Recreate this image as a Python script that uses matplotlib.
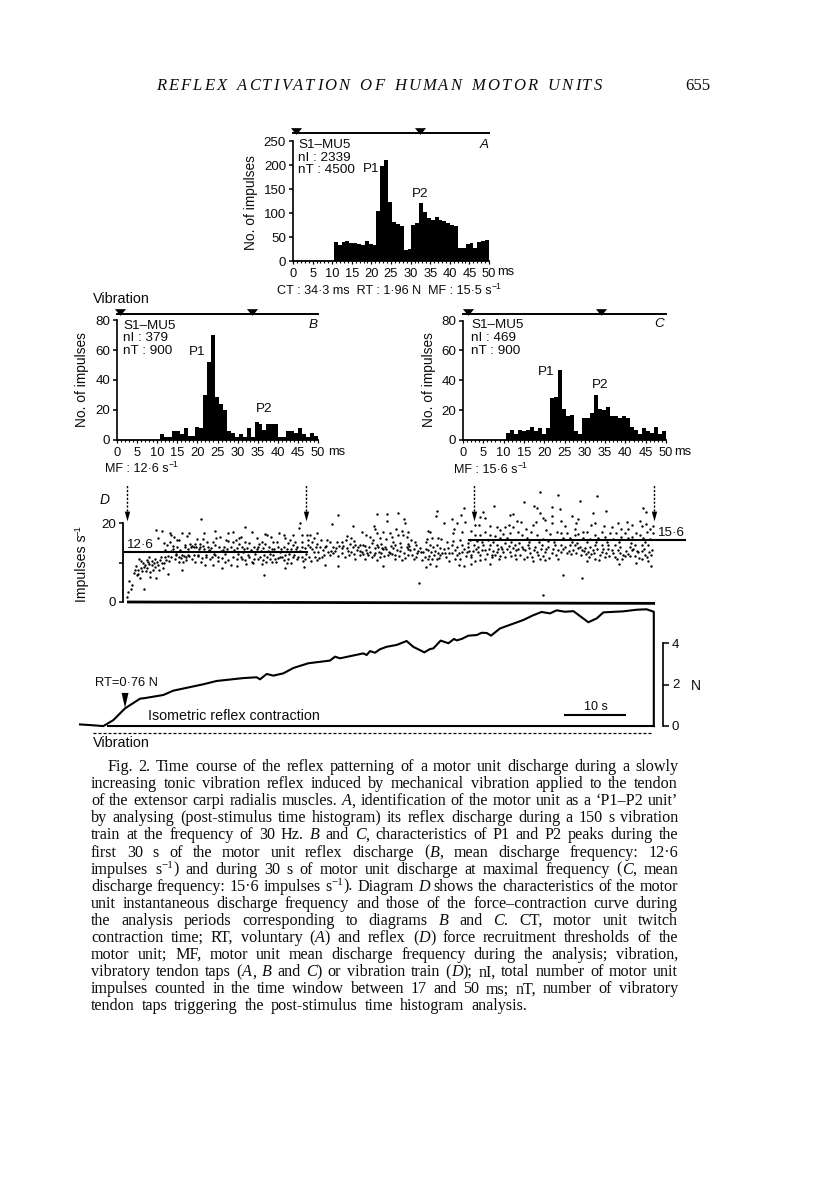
import re
import matplotlib
matplotlib.use("Agg")
import matplotlib.pyplot as plt

# ---------- data ----------
hist_a = [40,34,39,42,37,38,36,33,41,35,33,105,198,210,122,81,77,72,22,24,75,80,121,103,90,85,92,85,83,80,76,72,28,28,35,37,28,40,41,43]
hist_b = [4,2,2,6,6,4,8,3,3,9,8,30,52,70,29,24,20,6,5,2,4,2,8,2,12,11,7,11,11,11,2,2,6,6,5,8,4,2,5,3]
hist_c = [5,7,4,7,6,7,9,6,8,4,8,28,29,47,21,16,17,6,4,15,15,18,30,21,20,22,16,16,15,16,15,9,7,4,8,6,5,9,4,6]
bins_start_a, bins_width_a = 10.4, 0.99
bins_start_bc, bins_width_bc = 10.7, 0.98
ms_ticks = list(range(0, 55, 5))

force_t = [-7.83,-6.17,-3.94,-2.28,-.33,2.17,3,6.06,7.72,12.72,14.94,19.39,21.61,22.17,23.28,24.39,26.06,27.72,30.22,33.83,34.67,35.5,39.39,39.94,40.5,41.33,42.17,43.28,44.95,46.6,47.7,49.56,50.5,51.05,52.28,53.56,54.5,54.95,55.78,56.9,58.3,59.1,59.95,60.67,62.17,66.06,67.7,69.1,70.5,71.6,73,74.4,76.9,77.7,78.3,79.4,82.7,85,86.6,87.8,87.8]
force_n = [.1,.07,.02,.31,.88,1.35,1.38,1.53,1.74,2.05,2.21,2.35,2.39,2.29,2.55,2.47,2.58,2.84,3.07,3.2,3.39,3.31,3.55,3.47,3.66,3.58,3.75,3.87,3.96,4.15,3.87,3.6,3.76,3.79,4.17,4.04,4.25,4.18,4.25,4.41,4.44,4.55,4.54,4.41,4.76,5.17,5.4,5.56,5.49,5.64,5.57,5.6,5.06,5.17,5.25,5.54,5.59,5.67,5.69,5.57,0.02]

spikes_1 = [(.05,1.3),(.2,2.6),(.4,5.4),(.7,3.4),(.9,4.3),(1.3,8.1),(1.6,6.8),(1.9,8.1),(2.05,11),(2.3,10.5),(2.4,8.5),(2.2,6),(2.8,3.4),(3,9.4),(3.3,10.6),(3.4,8.5),(3.7,11.5),(3.8,6.4),(4.1,9.4),(4.4,8.1),(4.7,11),(4.8,6.2),(4.8,18.2),(5.2,16.1),(5.2,9.4),(5.5,10.6),(5.9,18),(6,8.5),(6.3,11.5),(6.6,14.4),(6.9,7.2),(7.1,17.4),(7.2,15.3),(7.4,17),(7.4,11.5),(8,11),(8.3,15.7),(8.7,15.7),(8.7,11.5),(9.1,17.4),(9.1,8.1),(9.4,10.2),(9.7,14.4),(9.9,11.5),(10.3,17.5),(10.5,14.8),(10.8,11),(11.2,14),(11.3,10.2),(11.7,15.9),(12.2,14),(12.3,20.9),(12.4,10.2),(12.9,17.4),(13,9.4),(13.4,15.3),(13.6,13.2),(13.8,11),(14.3,9.4),(14.7,18),(14.7,14.4),(15.1,11.5),(15.5,16.5),(15.8,8.5),(16.1,14),(16.5,15.7),(16.9,17.4),(16.9,10.6),(1.5,9.2),(2.7,9.8),(3.5,10.2),(4.5,9.9),(5.8,10),(6.4,13.1),(6.8,11.6),(7.7,13.5),(8.2,11.8),(9,11.2),(9.5,11.6),(10.1,13.3),(10.7,13.8),(11.5,13.9),(11.9,11.6),(12.7,14.2),(13.2,11.3),(14,13.6),(14.5,12.2),(15.3,13.8),(15.9,11.2),(16.3,12.1),(16.7,13.3),(12,13.4),(8.9,13.2)]
spikes_1b = [(1.1,7.4),(1.8,7.2),(2.5,7.8),(2.9,8.8),(3.1,7.9),(3.6,9.5),(3.9,7.6),(4.2,10.4),(4.6,8.8),(5,10.2),(5.4,8.2),(5.6,11.3),(6.1,9.8),(6.5,10.6),(7,10.4),(7.3,13),(7.6,14.3),(7.9,16.4),(8.4,13.8),(8.6,10.2),(9.2,12),(9.6,14),(9.8,10.6),(10.2,12),(10.4,11.7),(10.9,14.3),(11.1,11.9),(11.4,14.6),(11.8,12),(12.1,14.8),(12.5,11.1),(12.8,13.4),(13.1,12),(13.5,14),(13.9,12.9),(14.2,11.3),(14.6,12),(14.9,16.1),(15.2,10.5),(15.6,12.8),(16,13.1),(16.4,10.2),(16.8,15.4),(6.2,14.9),(8.1,12.2),(10,16.6),(12.6,16),(14.4,15.1)]
spikes_2 = [(17.7,17.8),(19.7,18.9),(20.8,17.6),(23,17.2),(23.4,17),(24,16.4),(25.4,17.5),(26.1,17),(27.6,17),(28.6,18.8),(28.8,19.9),(29.2,17),(30,17),(30.5,17),(31.7,17.5),(31.1,16.3),(34.1,19.7),(35.2,22),(19,16.5),(18.7,16.1),(21.6,16.1),(17.7,15.1),(18.6,14.8),(19.7,15.3),(22.5,15.3),(23,14.8),(25,15.3),(26.3,16.1),(27.2,15.7),(26.9,15),(29.1,15.3),(30.8,15.3),(32.3,15.7),(33.3,15.7),(33.8,15.3),(35,15.3),(17.4,14),(18.3,13.6),(19.1,14),(20,13.6),(21.1,14),(21.9,13.8),(22.7,13.6),(23.6,14),(24.1,13.3),(25.2,14),(26.1,14),(26.6,13.3),(27.7,14.4),(28.3,14),(29.1,14),(29.7,13.6),(30.5,13.8),(31.5,14),(33,13.8),(34.4,14),(17.6,11.5),(18.3,11),(19,11.5),(19.7,10.6),(20.4,11.5),(21.2,11),(21.9,11),(22.6,10.6),(23.3,11.5),(24.1,10.2),(24.7,11),(25.5,11.5),(26.1,10.6),(26.6,9.8),(27.4,10),(28.3,10.8),(29.1,11.5),(29.7,11),(30.7,10.5),(31.7,10.6),(32.5,11.5),(33.8,11.9),(34.4,12.3),(35.1,11.7),(17.4,9.4),(18.4,9.1),(19.8,9.6),(21,10),(22.5,9.6),(26.3,8.7),(29.5,8.9),(33,9.4),(35.2,9.2),(22.8,6.8),(19.4,12.7),(23.8,12.2),(25.5,12.7),(31.1,12.7),(31.9,12.7),(32.7,13.2)]
spikes_2b = [(17.9,13.2),(18.5,12.1),(19.2,11),(19.5,13.4),(20.2,12),(20.6,13.1),(20.9,10.2),(21.4,12.2),(21.7,13.3),(22.2,11.4),(22.4,13),(22.9,12),(23.1,10.1),(23.5,13),(23.9,10.9),(24.3,12),(24.5,13.5),(24.9,10.2),(25.2,11.2),(25.7,13.5),(25.9,11.3),(26.4,12),(26.8,11),(27,12.1),(27.3,13.4),(27.6,11.4),(27.9,12),(28.1,13.3),(28.5,11.4),(28.9,12.9),(29.3,10.4),(29.9,12.2),(30.2,14.4),(30.4,11.5),(30.9,13.3),(31.3,11.4),(31.6,14.7),(32,11.2),(32.2,13.9),(32.9,12),(33.2,14.2),(33.5,12.6),(34,13),(34.7,12.8),(34.9,13.6),(35.3,14.1),(18.1,15.6),(20.3,15),(22,14.7),(24.4,15.1),(28,15.2),(30.1,15.8)]
spikes_3 = [(41.7,22.4),(43.3,22.4),(45.2,22.6),(43.4,20.5),(46.2,20.9),(46.4,19.9),(51.7,23),(51.5,21.8),(52.8,20),(37.6,19.2),(41.1,19.2),(41.3,18.4),(44.9,18.4),(45.8,18),(46.9,17.8),(50.2,18),(50.5,17.6),(36.6,16.8),(39.1,17.6),(39.9,17),(41.6,17.5),(42.7,17.8),(43.8,17.4),(45.2,17),(46,17),(46.6,16.5),(37.4,16.3),(40.5,16.5),(42.2,16.1),(47.4,15.7),(49.8,15.3),(50.8,16.1),(51.9,16.1),(52.4,15.9),(35.8,15.3),(36.5,15.7),(37.2,14.8),(38,14.4),(38.8,14.4),(39.4,14.4),(40.8,15),(41.6,14.4),(42.4,14.8),(43,14),(44.4,15.3),(44.7,14.4),(45.5,15),(46.9,14.8),(48.2,14.4),(50.5,14.4),(51.6,14.4),(53.3,15.3),(35.9,13.6),(36.7,13.6),(37.4,12.7),(38.3,13.2),(39.1,12.7),(39.8,13.2),(40.5,12.7),(41.3,13.6),(42,12.7),(42.7,13.3),(43.6,12.7),(44.4,13.6),(45.5,13),(46.6,14),(47.2,13.2),(48.8,13.6),(49.4,12.7),(50.2,13.2),(51,13.8),(52.2,13.6),(35.8,12.3),(36.3,11.5),(37,11.9),(38,11),(38.8,11.9),(39.7,10.8),(40.2,11.9),(41.1,11.9),(41.6,10.6),(42.4,12.3),(43.8,12.3),(44.7,10.8),(45.8,10.6),(46.9,11.9),(47.8,11),(48.4,12.3),(49.1,10.6),(50.1,11),(50.8,11),(51.6,11),(52.2,11.9),(53,12.3),(53.7,12.3),(42.6,9.1),(49.8,8.8),(51.5,9),(53.6,10.4),(48.6,4.7),(50.5,9.6)]
spikes_3b = [(36,14.2),(36.9,12.9),(37.6,13.8),(37.9,12.2),(38.5,13.9),(38.9,13),(39.3,12.1),(39.6,14.1),(40,12.4),(40.3,13.8),(40.9,11.3),(41.4,12.5),(41.9,14),(42.1,11.5),(42.5,13.6),(42.9,11.7),(43.2,13.5),(43.5,11.8),(44,14.2),(44.2,12.2),(44.6,11.8),(45,13.2),(45.3,11.6),(45.7,14),(46.1,12.4),(46.4,11.2),(46.8,13.4),(47,14.3),(47.5,12),(47.9,13.5),(48.1,11.4),(48.5,13),(49,12.6),(49.6,11.3),(49.9,13.3),(50.4,11.7),(50.7,12.6),(51.2,11.9),(51.4,13),(51.8,12.3),(52,11.2),(52.5,12.5),(52.8,13.4),(53.1,11.4),(53.5,13.7),(37.8,15.4),(41,15.7),(43.1,16),(44.1,16.4),(48,15.3),(50,15.9)]
spikes_4 = [(68.8,27.8),(66.2,25.2),(56.1,23.7),(61.2,24.3),(67.8,24.3),(68.4,23.7),(68.8,22.6),(70.8,24.1),(71.9,27.1),(59.4,22.9),(58.9,21.6),(55.6,22),(63.8,22),(64.3,22.2),(59.7,21.3),(69.3,21.2),(69.7,20.8),(70.8,21.8),(54.1,20.9),(55,19.9),(56.3,20.2),(65,20.5),(65.6,20.2),(68.2,20.3),(70.8,19.9),(58,19.5),(58.7,19.6),(60.5,19.3),(63.7,19.5),(54.5,18.6),(61.6,19.1),(63,18.9),(64.4,19.1),(66.5,18.6),(67.7,19.5),(69.9,18.2),(57.3,18),(55.9,17.8),(59.7,17.8),(62.2,18.2),(65.2,17.8),(67.4,17.8),(71.6,17.8),(54.4,17.4),(58,17),(58.8,17),(60.5,17),(61.3,16.7),(62.6,17.2),(63.8,17.4),(65.8,17),(68.4,17),(70.5,17.2),(57.2,15.7),(55.5,15.7),(54.3,15.5),(62.2,16.1),(63.3,16.1),(66.6,16.1),(69.4,15.9),(54.1,14.4),(55,13.8),(55.9,14.4),(56.9,14),(57.8,14.4),(58.5,14),(59.4,14.4),(60.5,14.4),(61.6,14.4),(62.4,14),(63.6,14.2),(64.7,14.4),(65.8,14),(66.9,14.4),(68,14),(69.1,14.4),(70.2,14),(71.3,14.4),(54.1,12.3),(55,11.9),(55.8,12.7),(56.6,12.7),(57.4,11.9),(58.5,12.7),(59.7,13.2),(60.8,11.9),(61.6,12.7),(62.7,12.7),(63.8,12.7),(64.9,13.2),(66.3,13.2),(67.2,12.3),(68.3,12.7),(69.7,12.7),(70.8,12.3),(54.7,11),(55.5,10.8),(57.4,11.5),(58,10.4),(58.8,10.6),(59.7,10.9),(60.8,11.5),(66.2,10.8),(67.7,10.4),(68.8,11),(71.9,10.8),(55.4,9.4),(56.1,9.1),(57.3,9.6),(60.5,9.6),(69.3,1.8)]
spikes_4b = [(54.6,13.2),(55.3,12.4),(56.2,13.4),(56.5,11.6),(57,13),(57.6,12.9),(58.2,13.5),(58.9,11.8),(59.2,13.1),(60,12.1),(60.3,13.4),(61,13),(61.3,11.9),(61.9,13.4),(62.2,11.7),(62.5,13.3),(63,11.4),(63.4,13.4),(64,11.7),(64.3,13.6),(64.6,11.8),(65.1,13.4),(65.5,12),(66,13.5),(66.6,11.4),(67,13.6),(67.5,11.5),(67.9,13.2),(68.5,11.9),(69,13.5),(69.4,11.6),(69.9,13.3),(70.4,11.2),(71,13.4),(71.5,11.8),(71.8,13.2),(56.8,15),(58.3,15.4),(59.1,15.2),(60.1,15.6),(61,15.1),(64,15.3),(65.3,15),(67,15.2),(68.6,15.1),(70.1,15.4),(71.2,15.2),(63,15),(62,10.8),(64.8,11),(69.6,10.6)]
spikes_5 = [(78.4,26.8),(75.5,25.6),(77.7,22.6),(79.8,23.1),(86,23.9),(86.5,22.9),(72.2,23.5),(74.1,21.8),(75.2,21),(72.4,20.6),(78,19.9),(83.3,20.3),(85.5,20.6),(74.8,19.9),(73,19.3),(77.3,19.5),(79.5,19.3),(81.8,19.9),(84.1,19.5),(86.5,19.7),(87.7,19.2),(74.7,18.4),(76,17.8),(80.8,18.9),(82.4,18.4),(83.5,18.6),(85.8,19.2),(87.2,18.6),(72.4,17.4),(73.3,17.4),(75.2,17.1),(76.6,17.8),(79.1,17.8),(80.5,17.5),(81.5,17.5),(83,17.5),(84.8,17.5),(86.6,17.8),(87.6,17.4),(74.7,17),(78,17),(79.7,16.5),(82.4,16.5),(84.1,16.5),(85.5,17),(72.7,16.1),(73.8,16.1),(76,16.1),(77.2,15.9),(78.5,16.1),(81,15.9),(83.5,16.1),(86,16.1),(87.2,15.9),(72.4,14.4),(73,14),(73.8,14.4),(74.7,14.4),(75.5,14),(76.3,13.6),(77.2,14),(78,14.4),(79.1,14.4),(80.2,14.4),(81.3,14.4),(82.2,14),(83.8,13.8),(84.7,14.4),(85.8,14.4),(86.9,14.4),(72.4,12.7),(73.3,12.3),(74.4,13.2),(75.8,13.2),(76.9,12.7),(77.7,13.2),(79.1,12.7),(79.9,12.3),(80.8,13.2),(82.7,11.9),(84.1,13.2),(85.2,12.7),(86.3,11.9),(87.4,11.9),(76.6,10.5),(78,11),(78.7,10.6),(81.6,10.9),(82,9.6),(83,11.6),(84.9,10),(85.8,11),(86.9,10.5),(87.3,9.1),(72.7,6.8),(75.9,6.2)]
spikes_5b = [(72.7,13.4),(73.6,13),(74,12.1),(74.9,12.4),(75.2,13.6),(75.6,12),(76.1,12.8),(76.5,12.1),(77,11.4),(77.4,12.2),(77.9,12.4),(78.3,13.3),(78.8,12),(79.3,13.4),(79.6,11.3),(80.1,13.4),(80.4,11.6),(81,12.4),(81.3,11.4),(81.8,13.2),(82.1,12.3),(82.5,11),(83.1,13),(83.5,12.2),(83.9,11.6),(84.3,13.4),(84.6,11.6),(85,13),(85.4,11.2),(85.9,12.8),(86.2,13.3),(86.7,11.4),(87,12.7),(87.5,13.2),(74.2,15.2),(75,15),(76.6,15.1),(78.2,15.2),(80,15.3),(82,15.1),(84,15),(86.4,15.2)]

caption = [
 ("Fig. 2. Time course of the reflex patterning of a motor unit discharge during a slowly", 107),
 ("increasing tonic vibration reflex induced by mechanical vibration applied to the tendon", 91),
 ("of the extensor carpi radialis muscles. *A*, identification of the motor unit as a \u2018P1\u2013P2 unit\u2019", 91),
 ("by analysing (post-stimulus time histogram) its reflex discharge during a 150 s vibration", 91),
 ("train at the frequency of 30 Hz. *B* and *C*, characteristics of P1 and P2 peaks during the", 91),
 ("first 30 s of the motor unit reflex discharge (*B*, mean discharge frequency: 12\u00b76", 91),
 ("impulses s^{\u22121}) and during 30 s of motor unit discharge at maximal frequency (*C*, mean", 91),
 ("discharge frequency: 15\u00b76 impulses s^{\u22121}). Diagram *D* shows the characteristics of the motor", 91),
 ("unit instantaneous discharge frequency and those of the force\u2013contraction curve during", 91),
 ("the analysis periods corresponding to diagrams *B* and *C*. CT, motor unit twitch", 91),
 ("contraction time; RT, voluntary (*A*) and reflex (*D*) force recruitment thresholds of the", 91),
 ("motor unit; MF, motor unit mean discharge frequency during the analysis; vibration,", 91),
 ("vibratory tendon taps (*A*, *B* and *C*) or vibration train (*D*); nI, total number of motor unit", 91),
 ("impulses counted in the time window between 17 and 50 ms; nT, number of vibratory", 91),
 ("tendon taps triggering the post-stimulus time histogram analysis.", 91),
]

# ---------- layout helpers ----------
W, H = 816, 1183
INK = "#0c0c0c"
SANS = "Liberation Sans"
SERIF = "Liberation Serif"
CAP = 11.6
HS = 12
fig = plt.figure(figsize=(W/100, H/100), dpi=100, facecolor="white")
page = fig.add_axes([0, 0, 1, 1], zorder=5)
page.set_xlim(0, W); page.set_ylim(H, 0); page.axis("off"); page.patch.set_alpha(0)
renderer = fig.canvas.get_renderer()
TRI = [(-1, .6), (1, .6), (0, -.6)]
HEAD = [(-.55, 1), (.55, 1), (0, -1)]

def axes_px(x0, x1, ytop, ybot):
    a = fig.add_axes([x0/W, 1-ybot/H, (x1-x0)/W, (ybot-ytop)/H])
    a.patch.set_alpha(0)
    for s in a.spines.values():
        s.set_visible(False)
    return a

def segments(s):
    out, ital = [], False
    for part in re.split(r"(\*|\^\{.*?\})", s):
        if part == "*":
            ital = not ital
        elif part.startswith("^{"):
            out.append((part[2:-1], ital, True))
        elif part:
            out.append((part, ital, False))
    return out

def rich(x, y, s, family=SANS, size=9, draw=True):
    cx = x
    for txt, ital, sup in segments(s):
        fs = size*0.68 if sup else size
        t = page.text(cx, y-(size*0.5 if sup else 0), txt, family=family, fontsize=fs,
                      style="italic" if ital else "normal",
                      color=INK, ha="left", va="baseline")
        cx += t.get_window_extent(renderer).width
        if not draw:
            t.remove()
    return cx - x

def justified(s, x0, x1, y, family=SERIF, size=CAP):
    words = s.split(" ")
    ws = [rich(0, -50, w, family, size, draw=False) for w in words]
    gap = (x1-x0-sum(ws))/(len(words)-1)
    cx = x0
    for w, wd in zip(words, ws):
        rich(cx, y, w, family, size)
        cx += wd+gap

def histogram(rect, vals, start, width, ymax, yticks, topy, tri):
    a = axes_px(*rect)
    a.bar([start+i*width for i in range(len(vals))], vals, width=width, align="edge",
          color="black", linewidth=0)
    a.set_xlim(0, 50); a.set_ylim(0, ymax)
    a.spines["left"].set_visible(True); a.spines["left"].set_linewidth(1.2)
    a.spines["bottom"].set_visible(True); a.spines["bottom"].set_linewidth(1.3)
    a.set_yticks(yticks)
    a.set_xticks(ms_ticks)
    a.set_xticks(range(0, 51), minor=True)
    a.tick_params(axis="x", which="minor", length=1.6, width=0.8, color="black")
    a.tick_params(axis="x", which="major", length=2, width=0.9, pad=3, labelsize=9.3, labelcolor=INK)
    a.tick_params(axis="y", length=3, width=1.1, pad=2, labelsize=9.6, labelcolor=INK)
    for l in a.get_xticklabels()+a.get_yticklabels():
        l.set_family(SANS)
    a.plot([0, 50], [topy, topy], color="black", lw=1.4, clip_on=False)
    a.plot(tri, [topy*1.015]*2, ls="none", marker=TRI, ms=8, color="black", clip_on=False,
           markeredgewidth=0)
    return a

# ---------- histograms ----------
histogram((293, 489, 141, 261), hist_a, bins_start_a, bins_width_a, 250, range(0, 251, 50), 266, [0.8, 32.5])
histogram((117, 318, 320, 440), hist_b, bins_start_bc, bins_width_bc, 80, range(0, 81, 20), 84, [0.8, 33.6])
histogram((463, 666, 320.5, 440), hist_c, bins_start_bc, bins_width_bc, 80, range(0, 81, 20), 84.5, [1.2, 33.9])

def lab(x, y, s, size=9.7, ha="left", style="normal", rot=0, family=SANS):
    page.text(x, y, s, family=family, fontsize=size, ha=ha, va="center", style=style,
              rotation=rot, color=INK, rotation_mode="anchor")

# panel A
lab(298, 145, "S1\u2013MU5"); lab(298, 158, "nI : 2339"); lab(298, 170, "nT : 4500")
lab(484, 145, "A", ha="center", style="italic")
lab(371, 169, "P1", ha="center"); lab(420.5, 194, "P2", ha="center")
lab(251, 203, "No. of impulses", ha="center", rot=90, size=9.9)
lab(497, 272, "ms", size=9.3)
rich(277, 294, "CT : 34\u00b73 ms  RT : 1\u00b796 N  MF : 15\u00b75 s^{\u22121}", size=9.1)
# panel B
lab(123, 326, "S1\u2013MU5"); lab(123, 338, "nI : 379"); lab(123, 351, "nT : 900")
lab(313, 325, "B", ha="center", style="italic")
lab(197, 352, "P1", ha="center"); lab(264, 409, "P2", ha="center")
lab(82, 380, "No. of impulses", ha="center", rot=90, size=9.9)
lab(328, 452, "ms", size=9.3)
rich(105, 472, "MF : 12\u00b76 s^{\u22121}", size=9.1)
lab(93, 299, "Vibration", size=10.4)
# panel C
lab(471, 325, "S1\u2013MU5"); lab(471, 338, "nI : 469"); lab(471, 351, "nT : 900")
lab(659, 324, "C", ha="center", style="italic")
lab(546, 372, "P1", ha="center"); lab(600, 385, "P2", ha="center")
lab(429, 380, "No. of impulses", ha="center", rot=90, size=9.9)
lab(674, 452, "ms", size=9.3)
rich(454, 473, "MF : 15\u00b76 s^{\u22121}", size=9.1)

# ---------- panel D : discharge rate ----------
rate = axes_px(127, 655, 480, 602)
rate.set_xlim(0, 88); rate.set_ylim(0, (602-480)/3.95)
all_spikes = spikes_1+spikes_1b+spikes_2+spikes_2b+spikes_3+spikes_3b+spikes_4+spikes_4b+spikes_5+spikes_5b
rate.scatter([p[0] for p in all_spikes], [p[1] for p in all_spikes], s=3, color="black",
             linewidths=0, clip_on=False)
rate.plot([-0.4, 30], [12.6, 12.6], color="black", lw=1.5, clip_on=False)
rate.plot([57, 93], [15.6, 15.6], color="black", lw=1.5, clip_on=False)
rate.plot([0, 88], [0, -0.35], color="black", lw=2, clip_on=False, solid_capstyle="butt")
rate.spines["left"].set_visible(True); rate.spines["left"].set_linewidth(1.3)
rate.spines["left"].set_position(("outward", 3)); rate.spines["left"].set_bounds(0, 20)
rate.set_xticks([]); rate.set_yticks([0, 10, 20], labels=["0", "", "20"])
rate.tick_params(axis="y", length=3, width=1.1, pad=2, labelsize=9.6, labelcolor=INK)
for l in rate.get_yticklabels():
    l.set_family(SANS)
for t_arrow in [0, 29.8, 57.8, 87.8]:
    rate.plot([t_arrow, t_arrow], [22, 29.8], color="black", lw=1, ls=(0, (1.6, 1.2)), clip_on=False)
    rate.plot([t_arrow], [21.8], marker=HEAD, ms=7, mew=0, color="black", ls="none", clip_on=False)
lab(105, 500, "D", style="italic", ha="center", size=10)
page.text(82, 602, "Impulses s", family=SANS, fontsize=10.2, rotation=90, color=INK, ha="left",
          va="center", rotation_mode="anchor")
page.text(78, 536, "\u22121", family=SANS, fontsize=6.8, rotation=90, color=INK, ha="left",
          va="center", rotation_mode="anchor")
lab(127, 545, "12\u00b76", size=9.6); lab(658, 533, "15\u00b76", size=9.6)

# ---------- panel D : force ----------
force = axes_px(80, 656, 600, 726.5)
force.set_xlim((80-127)/6, (656-127)/6); force.set_ylim(0, 126.5/20.6)
force.plot(force_t, force_n, color="black", lw=1.5, clip_on=False, solid_joinstyle="round")
force.plot([-3.2, 87.8], [0.02, 0.02], color="black", lw=1.5, clip_on=False)
force.plot([-5.6, 87.5], [-0.32, -0.32], color="black", lw=0.9, ls=(0, (2.4, 1.6)), clip_on=False)
force.plot([73, 83], [0.55, 0.55], color="black", lw=1.5)
force.fill([-0.9, 0.25, -0.33], [1.63, 1.63, 0.9], color="black", lw=0)
force.set_xticks([]); force.set_yticks([])
lab(95, 683, "RT=0\u00b776 N", size=9.3)
lab(148, 716, "Isometric reflex contraction", size=10.3)
lab(93, 743, "Vibration", size=10.4)
lab(596, 707, "10 s", ha="center", size=9)

scale = axes_px(663, 668, 643, 726)
scale.set_ylim(0, 4); scale.set_xlim(0, 1)
scale.spines["left"].set_visible(True); scale.spines["left"].set_linewidth(1.2)
scale.set_xticks([]); scale.set_yticks([0, 2, 4], labels=[]); scale.yaxis.tick_left()
scale.tick_params(axis="y", direction="in", length=4, width=1.1, left=True)
lab(672, 645, "4", size=9.6); lab(672, 685, "2", size=9.6); lab(672, 727, "0", size=9.6)
lab(691, 686, "N", size=10)

# ---------- page text ----------
header = "REFLEX ACTIVATION OF HUMAN MOTOR UNITS"
def header_line(s, x0, x1, y):
    adv = []
    for ch in s:
        if ch == " ":
            adv.append(HS*0.5)
            continue
        t = page.text(0, -50, ch, family=SERIF, style="italic", fontsize=HS)
        adv.append(t.get_window_extent(renderer).width)
        t.remove()
    extra = (x1-x0-sum(adv))/(len(s)-1)
    cx = x0
    for ch, w in zip(s, adv):
        if ch != " ":
            page.text(cx, y, ch, family=SERIF, style="italic", fontsize=HS, color=INK, va="baseline")
        cx += w+extra
header_line(header, 156, 602, 90)
page.text(710, 90, "655", family=SERIF, fontsize=HS, color=INK, ha="right", va="baseline")
for i, (line, x0) in enumerate(caption):
    y = 771 + 17.1*i
    x1 = 527 if i == len(caption)-1 else 678
    justified(line, x0, x1, y)

fig.savefig("out.png", dpi=100, facecolor="white")
